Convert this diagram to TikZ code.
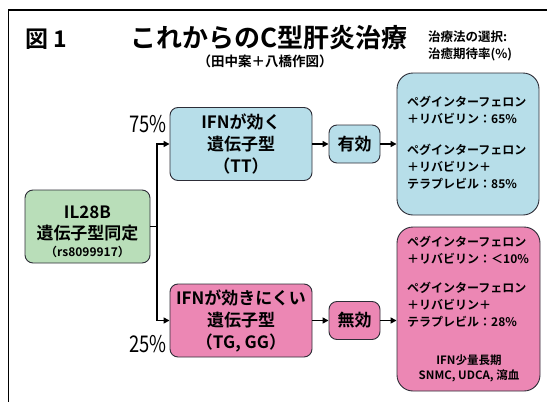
\documentclass[tikz,border=0pt]{standalone}
\usepackage{fontspec}
\setmainfont{Noto Sans CJK JP}[BoldFont={Noto Sans CJK JP Bold}]
\newfontfamily\cond{Noto Sans CJK JP}[FakeStretch=0.8]
\usetikzlibrary{arrows.meta}
\definecolor{cblue}{RGB}{183,222,233}
\definecolor{cpink}{RGB}{236,135,180}
\definecolor{cgreen}{RGB}{185,222,185}
\definecolor{edge}{RGB}{45,45,55}
\begin{document}
\begin{tikzpicture}[x=1pt,y=-1pt,
  box/.style={draw=edge,line width=0.9pt,rounded corners=8pt,inner sep=0pt,align=center},
  bigbox/.style={draw=edge,line width=0.9pt,rounded corners=16pt,inner sep=0pt},
  boxtxt/.style={font=\bfseries\fontsize{17}{22}\selectfont},
  smalltxt/.style={font=\bfseries\fontsize{12}{17}\selectfont,inner sep=0pt},
  pct/.style={font=\cond\fontsize{23}{23}\selectfont,inner sep=0pt,anchor=east},
  arr/.style={line width=1.6pt,-{Triangle[length=6pt,width=6pt]}},
  conn/.style={line width=1.6pt}]
\useasboundingbox (0,0) rectangle (547,402);
\draw[line width=1.2pt] (547,10) -- (8.5,10) -- (8.5,402);

% titles
\node[font=\bfseries\fontsize{23}{23}\selectfont,inner sep=0pt] (fig) at (46,39) {図 1};
\node[font=\bfseries\fontsize{26}{26}\selectfont,inner sep=0pt] (title) at (269,38) {これからのC型肝炎治療};
\node[font=\bfseries\fontsize{13.5}{14}\selectfont,inner sep=0pt] (sub) at (265,61) {（田中案＋八橋作図）};
\node[font=\bfseries\fontsize{12.5}{17}\selectfont,inner sep=0pt,align=left,anchor=north west] (sel) at (428,31) {治療法の選択:\\治癒期待率(\%)};

% left boxes
\node[box,fill=cgreen,minimum width=125pt,minimum height=73pt] (g) at (87.5,226.5) {};
\node[boxtxt,inner sep=0pt] (g1) at (87.5,212) {IL28B};
\node[boxtxt,inner sep=0pt] (g2) at (87.5,233) {遺伝子型同定};
\node[smalltxt] (g3) at (87.5,252) {（rs8099917）};

\node[box,fill=cblue,minimum width=142pt,minimum height=73pt,boxtxt] (b) at (241,144) {IFNが効く\\遺伝子型\\（TT）};
\node[box,fill=cpink,minimum width=142pt,minimum height=73pt,boxtxt] (p) at (241,320.5) {IFNが効きにくい\\遺伝子型\\（TG, GG）};

% percent labels
\node[pct] (p75) at (167,124) {75\%};
\node[pct] (p25) at (167,344) {25\%};

% middle boxes
\node[box,fill=cblue,minimum width=51pt,minimum height=38pt,boxtxt] (e) at (354.5,144) {有効};
\node[box,fill=cpink,minimum width=51pt,minimum height=38pt,boxtxt] (n) at (354.5,320.5) {無効};

% right boxes
\node[bigbox,fill=cblue,minimum width=142pt,minimum height=142pt] (rb) at (468,144) {};
\node[smalltxt,align=left,anchor=north west] (rbt) at (407,96) {ペグインターフェロン\\＋リバビリン：65\%\\[14pt]ペグインターフェロン\\＋リバビリン＋\\テラプレビル：85\%};
\node[bigbox,fill=cpink,minimum width=143pt,minimum height=164pt] (rp) at (468.5,309) {};
\node[smalltxt,align=left,anchor=north west] (rpt) at (407,236) {ペグインターフェロン\\＋リバビリン：＜10\%\\[12pt]ペグインターフェロン\\＋リバビリン＋\\テラプレビル：28\%};
\node[font=\bfseries\fontsize{11.5}{14.5}\selectfont,inner sep=0pt,align=center,anchor=north] (rpc) at (469,355) {IFN少量長期\\SNMC, UDCA, 瀉血};

% connectors
\coordinate (jx) at (157,0);
\draw[conn] (g.east) -- (g.east -| jx);
\draw[arr] (jx |- g.east) |- (b.west);
\draw[arr] (jx |- g.east) |- (p.west);
\draw[arr] (b.east) -- (e.west);
\draw[arr] (e.east) -- (rb.west |- e.east);
\draw[arr] (p.east) -- (n.west);
\draw[arr] (n.east) -- (rp.west |- n.east);
\end{tikzpicture}
\end{document}
